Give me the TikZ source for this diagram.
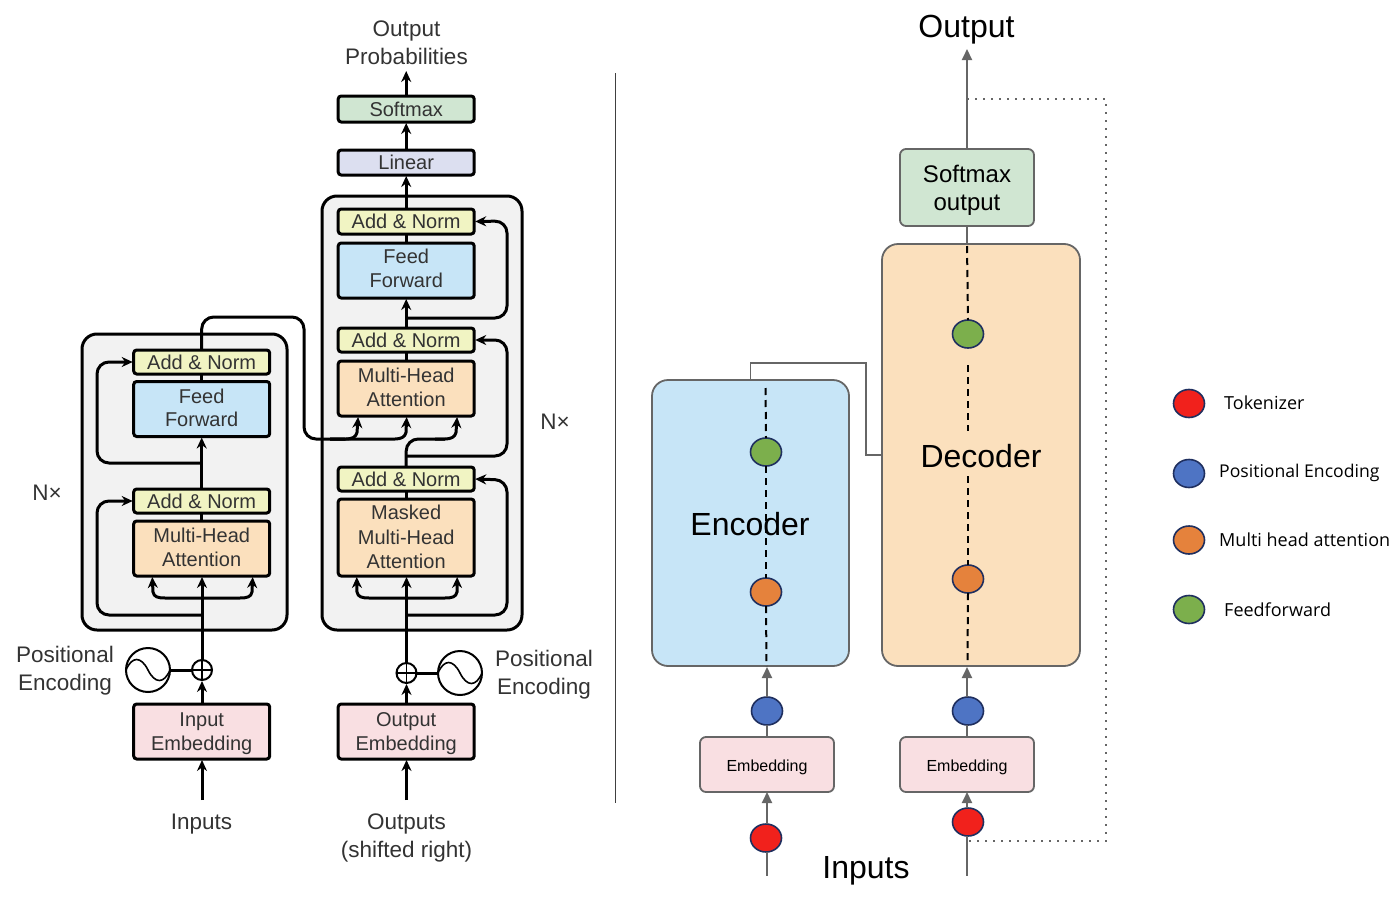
\documentclass[tikz,border=0pt]{standalone}
\usepackage{fontspec}
\setmainfont{Liberation Sans}
\newfontfamily\legendfont{Open Sans}
\usetikzlibrary{arrows.meta,calc,shapes.geometric}
\definecolor{lgrey}{HTML}{F2F2F2}
\definecolor{cadd}{HTML}{F1F4C3}
\definecolor{cff}{HTML}{C7E5F7}
\definecolor{cmha}{HTML}{FBE0BD}
\definecolor{cemb}{HTML}{F9DFE2}
\definecolor{csoft}{HTML}{D0E6D2}
\definecolor{clin}{HTML}{DCDFF0}
\definecolor{cedge}{HTML}{666666}
\definecolor{cdark}{HTML}{1F2F5F}
\definecolor{cred}{HTML}{F1211C}
\definecolor{cblue}{HTML}{4E74C4}
\definecolor{corange}{HTML}{E5823C}
\definecolor{cgreen}{HTML}{7CAF4C}
\definecolor{ctext}{HTML}{333333}
\newcommand{\shiftline}[2]{\raisebox{#1}[\height][\depth]{#2}}
\tikzset{
  blk/.style={draw=black,line width=3pt,rounded corners=3pt,minimum width=136pt,inner sep=0pt,outer sep=0pt,align=center,text=ctext,font=\fontsize{20}{24}\selectfont},
  stack/.style={draw=black,line width=3pt,rounded corners=15pt,fill=lgrey},
  wire/.style={line width=3pt,black,rounded corners=12pt},
  arr/.style={wire,-{Stealth[length=11pt,width=10pt]},shorten >=1pt},
  curvarr/.style={line width=3pt,black,-{Stealth[length=11pt,width=10pt]},shorten >=1pt},
  lab/.style={align=center,text=ctext,inner sep=0pt,font=\fontsize{22.5}{28}\selectfont},
  plusn/.style={circle,draw=black,line width=2pt,minimum size=20pt,inner sep=0pt,outer sep=0pt,fill=white},
  sinen/.style={circle,draw=black,line width=2pt,minimum size=44pt,inner sep=0pt,outer sep=0pt},
  gbox/.style={draw=cedge,line width=1.8pt,rounded corners=6pt,inner sep=0pt,outer sep=0pt,align=center},
  gbig/.style={draw=cedge,line width=1.8pt,rounded corners=16pt},
  dot/.style={ellipse,draw=cdark,line width=1.6pt,minimum width=31pt,minimum height=28pt,inner sep=0pt,outer sep=0pt},
  gline/.style={draw=cedge,line width=2pt},
  garr/.style={gline,-{Triangle[length=11pt,width=10pt]}},
  dashl/.style={black,line width=2pt,dash pattern=on 7pt off 5pt},
  dotl/.style={cedge,line width=2.4pt,dash pattern=on 2.4pt off 5.6pt},
  big/.style={inner sep=0pt,text=black,font=\fontsize{32}{36}\selectfont},
  leg/.style={inner sep=0pt,anchor=west,text=black,font=\legendfont\fontsize{18}{22}\selectfont},
}
\begin{document}
\begin{tikzpicture}[x=1pt,y=-1pt]
\useasboundingbox (0,0) rectangle (1394,902);
% ---------- left: containers
\draw[stack] (82,334) rectangle (287,630);
\draw[stack] (322,196) rectangle (522,630);
% encoder blocks
\node[blk,fill=cadd,minimum height=24pt] (ean2) at (201.7,362) {Add \& Norm};
\node[blk,fill=cff,minimum height=55pt] (eff) at (201.7,409) {\shiftline{1pt}{Feed}\\\shiftline{1.5pt}{Forward}};
\node[blk,fill=cadd,minimum height=24pt] (ean1) at (201.7,501) {Add \& Norm};
\node[blk,fill=cmha,minimum height=55pt] (emha) at (201.7,548.5) {\shiftline{1pt}{Multi-Head}\\\shiftline{1pt}{Attention}};
\node[blk,fill=cemb,minimum height=55pt] (eemb) at (201.7,731.5) {\shiftline{-2pt}{Input}\\\shiftline{-2pt}{Embedding}};
\node[plusn] (eplus) at (202,670) {};
\node[sinen] (esin) at (148,670) {};
% decoder blocks
\node[blk,fill=csoft,minimum height=26pt] (soft) at (406.2,109) {Softmax};
\node[blk,fill=clin,minimum height=25pt] (lin) at (406.2,162.5) {Linear};
\node[blk,fill=cadd,minimum height=25pt] (dan3) at (406.2,221.5) {Add \& Norm};
\node[blk,fill=cff,minimum height=55pt] (dff) at (406.2,270.5) {\shiftline{2pt}{Feed}\\\shiftline{2pt}{Forward}};
\node[blk,fill=cadd,minimum height=24pt] (dan2) at (406.2,340) {Add \& Norm};
\node[blk,fill=cmha,minimum height=55pt] (dmha) at (406.2,388.5) {\shiftline{1pt}{Multi-Head}\\\shiftline{1pt}{Attention}};
\node[blk,fill=cadd,minimum height=24pt] (dan1) at (406.2,479) {Add \& Norm};
\node[blk,fill=cmha,minimum height=77pt] (dmask) at (406.2,537.5) {\shiftline{1pt}{Masked}\\Multi-Head\\Attention};
\node[blk,fill=cemb,minimum height=55pt] (demb) at (406.2,731.5) {\shiftline{-2pt}{Output}\\\shiftline{-2pt}{Embedding}};
\node[plusn] (dplus) at (406.5,673) {};
\node[sinen] (dsin) at (460,673) {};
% labels
\node[lab] (lprob) at (406.5,43) {Output\\Probabilities};
\node[lab] (lpe1) at (65,671) {Positional\\Encoding};
\node[lab] (lpe2) at (544,675) {Positional\\Encoding};
\node[lab] (lnx1) at (47,492.5) {N×};
\node[lab] (lnx2) at (555,421.5) {N×};
\node[lab] (linp) at (201.5,824) {Inputs};
\node[lab] (lout) at (406.5,838) {Outputs\\(shifted right)};
% free ends
\coordinate (einfree) at (202,800);
\coordinate (dinfree) at (406.5,800);
\coordinate (probfree) at (406.5,70);
% sine curves
\draw[black,line width=1.6pt] (esin.west) .. controls (132,656) and (141,656) .. (148,670) .. controls (155,684) and (164,684) .. (esin.east);
\draw[black,line width=1.6pt] (dsin.west) .. controls (444,659) and (453,659) .. (460,673) .. controls (467,687) and (476,687) .. (dsin.east);
% plus signs
\draw[black,line width=1.6pt] (eplus.north) -- (eplus.south) (eplus.west) -- (eplus.east);
\draw[black,line width=1.6pt] (dplus.north) -- (dplus.south) (dplus.west) -- (dplus.east);
% encoder wires
\draw[arr] (einfree) -- (einfree |- eemb.south);
\draw[arr] (einfree |- eemb.north) -- (eplus.south);
\draw[wire] (esin.east) -- (eplus.west);
\draw[arr] (eplus.north) -- (eplus.north |- emha.south);
\draw[curvarr] (202,598) -- (165,598) .. controls (158,598) and (154,597) .. (153,592) -- ([xshift=-49.5pt]emha.south);
\draw[curvarr] (202,598) -- (240,598) .. controls (247,598) and (251,597) .. (252,592) -- ([xshift=51pt]emha.south);
\draw[arr] (202,615) -- (97,615) -- (97,501) -- (ean1.west);
\draw[wire] (emha.north) -- (ean1.south);
\draw[arr] (ean1.north) -- (eff.south);
\draw[arr] (202,463) -- (97,463) -- (97,362) -- (ean2.west);
\draw[wire] (eff.north) -- (ean2.south);
\draw[wire] (ean2.north) -- (201.7,317) -- (304,317) -- (304,439) -- (345,439);
\draw[curvarr] (330,439) -- (346,439) .. controls (352,439) and (356,437) .. (357,432.5) -- ([xshift=-48pt]dmha.south);
\draw[curvarr] (330,439) -- (395,439) .. controls (401,439) and (405,437) .. (406,432.5) -- ([xshift=0.5pt]dmha.south);
\draw[wire] (dan1.north) -- (406.2,439) -- (445,439);
\draw[curvarr] (435,439) -- (445,439) .. controls (451,439) and (455,437) .. (456,432.5) -- ([xshift=51pt]dmha.south);
% decoder wires
\draw[arr] (dinfree) -- (dinfree |- demb.south);
\draw[arr] (dinfree |- demb.north) -- (dplus.south);
\draw[wire] (dsin.west) -- (dplus.east);
\draw[arr] (dplus.north) -- (dplus.north |- dmask.south);
\draw[curvarr] (406.5,598) -- (369,598) .. controls (362,598) and (358,597) .. (357,592) -- ([xshift=-49.5pt]dmask.south);
\draw[curvarr] (406.5,598) -- (445,598) .. controls (452,598) and (456,597) .. (457,592) -- ([xshift=51pt]dmask.south);
\draw[arr] (406.5,615) -- (507,615) -- (507,480) -- (dan1.east);
\draw[wire] (dmask.north) -- (dan1.south);
\draw[arr] (406.5,456) -- (507,456) -- (507,340) -- (dan2.east);
\draw[wire] (dmha.north) -- (dan2.south);
\draw[arr] (dan2.north) -- (dff.south);
\draw[arr] (406.5,318) -- (507,318) -- (507,221) -- (dan3.east);
\draw[wire] (dff.north) -- (dan3.south);
\draw[arr] (dan3.north) -- (lin.south);
\draw[arr] (lin.north) -- (soft.south);
\draw[arr] (soft.north) -- (soft.north |- probfree);
% divider
\coordinate (divt) at (615.5,73);
\coordinate (divb) at (615.5,803);
\draw[black!75,line width=1pt] (divt) -- (divb);
% ---------- right
\draw[gline,line width=1.8pt] (750.5,380) -- (750.5,363) -- (866,363) -- (866,455) -- (882,455);
\draw[gbig,fill=cff] (652,380) rectangle (849,666);
\draw[gbig,fill=cmha] (882,244) rectangle (1080,666);
\node[gbox,fill=csoft,minimum width=134pt,minimum height=77pt,font=\fontsize{24}{28}\selectfont] (rsoft) at (967,187.5) {\shiftline{-2.5pt}{Softmax}\\\shiftline{-2.5pt}{output}};
\node[gbox,fill=cemb,minimum width=134pt,minimum height=55pt,font=\fontsize{16}{20}\selectfont] (remb1) at (767,764.5) {\shiftline{-3pt}{Embedding}};
\node[gbox,fill=cemb,minimum width=134pt,minimum height=55pt,font=\fontsize{16}{20}\selectfont] (remb2) at (967,764.5) {\shiftline{-3pt}{Embedding}};
% dots
\node[dot,fill=cgreen] (g1) at (766,452) {};
\node[dot,fill=corange] (o1) at (766,592) {};
\node[dot,fill=cblue] (b1) at (767,711) {};
\node[dot,fill=cred] (r1) at (766,838) {};
\node[dot,fill=cgreen] (g2) at (968,334) {};
\node[dot,fill=corange] (o2) at (968,579) {};
\node[dot,fill=cblue] (b2) at (968,711) {};
\node[dot,fill=cred] (r2) at (968,822) {};
% texts
\node[big] (tout) at (966.5,30) {Output};
\node[big] (tenc) at (750,524) {Encoder};
\node[big] (tdec) at (981,456) {Decoder};
\node[big] (tinp) at (866,871) {Inputs};
% free ends
\coordinate (f1) at (767,876);
\coordinate (f2) at (967,876);
\coordinate (f3) at (967,49);
\coordinate (ce) at (767,667);
\coordinate (cd) at (967,667);
% gray connectors
\draw[garr] (ce |- b1.north) -- (ce);
\draw[gline] (ce |- b1.south) -- (remb1.north);
\draw[garr] (f1 |- r1.north) -- (remb1.south);
\draw[gline] (f1 |- r1.south) -- (f1);
\draw[garr] (cd |- b2.north) -- (cd);
\draw[gline] (cd |- b2.south) -- (remb2.north);
\draw[garr] (f2 |- r2.north) -- (remb2.south);
\draw[gline] (f2 |- r2.south) -- (f2);
\draw[garr] (rsoft.north) -- (f3);
\draw[gline] (rsoft.south) -- (967,244);
% dashed
\draw[dashl] (765.5,388) -- (g1.north);
\draw[dashl] (g1.south) -- (o1.north);
\draw[dashl] (o1.south) -- (766.5,666);
\draw[dashl] (967,246) -- (g2.north);
\draw[dashl] (968,365) -- (968,431);
\draw[dashl] (968,476) -- (o2.north);
\draw[dashl] (o2.south) -- (967.5,662);
% dotted feedback
\draw[dotl] (967,99) -- (1106,99) -- (1106,841) -- (967,841);
% legend
\node[dot,fill=cred] (lg1) at (1189,403.5) {};
\node[dot,fill=cblue] (lg2) at (1189,473.5) {};
\node[dot,fill=corange] (lg3) at (1189,540) {};
\node[dot,fill=cgreen] (lg4) at (1189,609.5) {};
\node[leg] (lt1) at (1224,403) {Tokenizer};
\node[leg,font=\legendfont\fontsize{17.6}{22}\selectfont] (lt2) at (1219,472.5) {Positional Encoding};
\node[leg] (lt3) at (1219,540) {Multi head attention};
\node[leg] (lt4) at (1224,610) {Feedforward};
\end{tikzpicture}
\end{document}
